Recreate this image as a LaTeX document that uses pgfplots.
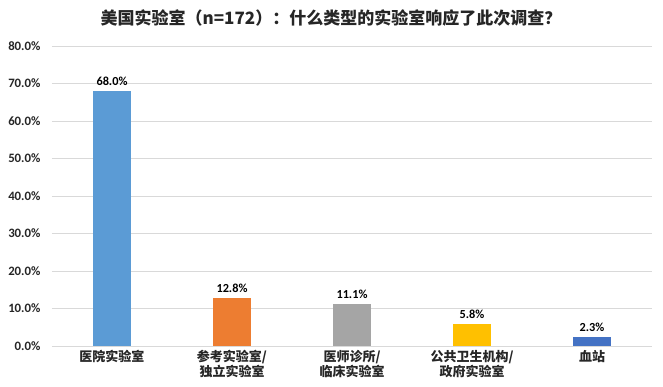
\documentclass[border=0pt]{standalone}
\usepackage{pgfplots}
\pgfplotsset{compat=1.18}
\usepackage{fontspec}
\setmainfont{Carlito}
\newfontfamily\cjk{Noto Sans CJK SC}
\definecolor{c1}{HTML}{5B9BD5}
\definecolor{c2}{HTML}{ED7D31}
\definecolor{c3}{HTML}{A5A5A5}
\definecolor{c4}{HTML}{FFC000}
\definecolor{c5}{HTML}{4472C4}
\definecolor{gridc}{HTML}{D9D9D9}
\begin{document}
\begin{tikzpicture}[x=1pt,y=1pt]
\useasboundingbox (-52,-40) rectangle (611,346);
\begin{axis}[
  at={(0,0)}, anchor=south west,
  scale only axis, width=600pt, height=300pt,
  xmin=-0.5, xmax=4.5, ymin=0, ymax=80,
  ytick={0,10,...,80},
  yticklabel={\pgfmathprintnumber[fixed,fixed zerofill,precision=1]{\tick}\%},
  /pgf/number format/assume math mode=true,
  yticklabel style={font=\bfseries\fontsize{12.8}{14}\selectfont, text=black!85, anchor=east, xshift=-8pt},
  xtick={0,1,2,3,4},
  xticklabels={医院实验室, 参考实验室/\\独立实验室, 医师诊所/\\临床实验室, 公共卫生机构/\\政府实验室, 血站},
  xticklabel style={font=\cjk\bfseries\fontsize{13}{15}\selectfont, align=center, text=black!85, anchor=north, yshift=-1pt},
  major tick length=0pt,
  axis line style={draw=none},
  ymajorgrids, xmajorgrids=false, grid style={draw=gridc, line width=0.8pt},
  ybar, bar width=38pt, bar shift=0pt,
  nodes near coords={\pgfmathprintnumber[fixed,fixed zerofill,precision=1]{\pgfplotspointmeta}\%},
  nodes near coords style={font=\bfseries\fontsize{12.3}{14}\selectfont, text=black, yshift=2pt},
  clip=false,
]
\addplot[fill=c1, draw=none] coordinates {(0,68.0)};
\addplot[fill=c2, draw=none] coordinates {(1,12.8)};
\addplot[fill=c3, draw=none] coordinates {(2,11.1)};
\addplot[fill=c4, draw=none] coordinates {(3,5.8)};
\addplot[fill=c5, draw=none] coordinates {(4,2.3)};
\end{axis}
\node[font=\cjk\bfseries\fontsize{17}{19}\selectfont, text=black!85] at (279,328) {美国实验室（n=172）：什么类型的实验室响应了此次调查？};
\end{tikzpicture}
\end{document}
